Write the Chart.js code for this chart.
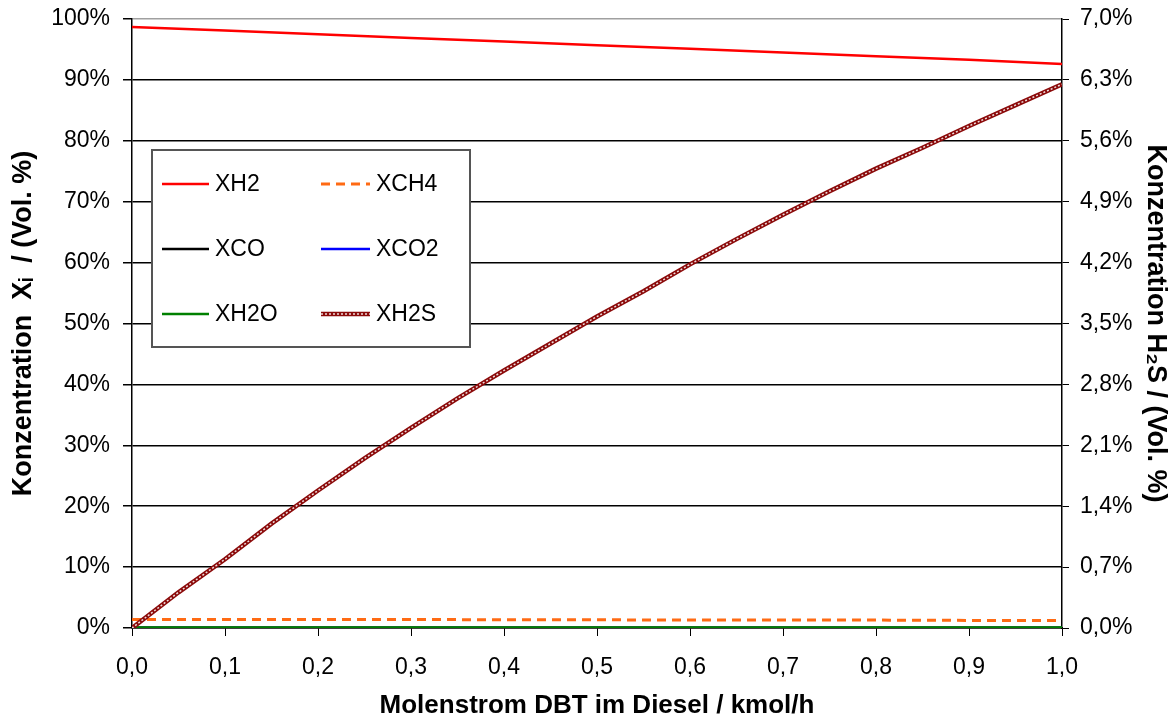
<!DOCTYPE html>
<html lang="de">
<head>
    <meta charset="UTF-8">
    <title>Konzentration vs. Molenstrom DBT</title>
    <script src="https://cdn.jsdelivr.net/npm/chart.js"></script>
    <style>
        body { margin: 0; background: #fff; }
        #wrap { width: 1174px; height: 717px; }
    </style>
</head>
<body>
    <div id="wrap">
        <canvas id="chart" width="1174" height="717"></canvas>
    </div>

    <script>
        // x positions (kmol/h)
        const xSteps = [0.0, 0.1, 0.2, 0.3, 0.4, 0.5, 0.6, 0.7, 0.8, 0.9, 1.0];
        const xStepsH2S = [0.0, 0.05, 0.1, 0.15, 0.2, 0.25, 0.3, 0.35, 0.4, 0.45, 0.5,
                           0.55, 0.6, 0.65, 0.7, 0.75, 0.8, 0.85, 0.9, 0.95, 1.0];

        // left axis series, Vol. %
        const xH2  = [98.7, 98.1, 97.5, 96.9, 96.3, 95.7, 95.1, 94.5, 93.9, 93.3, 92.6];
        const xCH4 = [1.4, 1.4, 1.4, 1.4, 1.35, 1.35, 1.3, 1.3, 1.3, 1.25, 1.25];
        const xCO  = [0.05, 0.05, 0.05, 0.05, 0.05, 0.05, 0.05, 0.05, 0.05, 0.05, 0.05];
        const xCO2 = [0.05, 0.05, 0.05, 0.05, 0.05, 0.05, 0.05, 0.05, 0.05, 0.05, 0.05];
        const xH2O = [0.1, 0.1, 0.1, 0.1, 0.1, 0.1, 0.1, 0.1, 0.1, 0.1, 0.1];

        // right axis series, Vol. % H2S
        const xH2S = [0.0, 0.41, 0.79, 1.20, 1.58, 1.95, 2.30, 2.64, 2.96, 3.27, 3.58,
                      3.87, 4.18, 4.47, 4.75, 5.02, 5.28, 5.52, 5.77, 6.01, 6.25];

        // tick labels
        const xTicks = [0.0, 0.1, 0.2, 0.3, 0.4, 0.5, 0.6, 0.7, 0.8, 0.9, 1.0];
        const leftTicks = [0, 10, 20, 30, 40, 50, 60, 70, 80, 90, 100];
        const rightTicks = [0.0, 0.7, 1.4, 2.1, 2.8, 3.5, 4.2, 4.9, 5.6, 6.3, 7.0];

        const comma = (v) => v.toFixed(1).replace('.', ',');
        const pts = (xs, ys) => xs.map((x, i) => ({ x: x, y: ys[i] }));

        Chart.defaults.font.family = '"Liberation Sans", Arial, sans-serif';
        Chart.defaults.color = '#000';

        // legend columns as in the original (left column, right column)
        const legendCols = [['XH2', 'XCO', 'XH2O'], ['XCH4', 'XCO2', 'XH2S']];

        const legendBox = {
            id: 'legendBox',
            afterDatasetsDraw(chart) {
                const ctx = chart.ctx;
                const area = chart.chartArea;
                const left = area.left + 20, top = area.top + 131;
                const w = 318, h = 197;
                ctx.save();
                ctx.fillStyle = '#fff';
                ctx.fillRect(left, top, w, h);
                ctx.strokeStyle = '#555';
                ctx.lineWidth = 2;
                ctx.strokeRect(left, top, w, h);

                ctx.font = '23px "Liberation Sans", Arial, sans-serif';
                ctx.textBaseline = 'middle';
                ctx.fillStyle = '#000';

                legendCols.forEach((col, c) => {
                    col.forEach((label, r) => {
                        const ds = chart.data.datasets.find(d => d.label === label);
                        const sx = left + 10 + c * 159;
                        const y = top + 34 + r * 65;
                        const sw = c === 0 ? 47 : 49;
                        ctx.beginPath();
                        ctx.strokeStyle = ds.borderColor;
                        ctx.lineWidth = ds.borderWidth;
                        ctx.setLineDash(ds.borderDash || []);
                        ctx.moveTo(sx, y);
                        ctx.lineTo(sx + sw, y);
                        ctx.stroke();
                        if (label === 'XH2S') {
                            const ov = chart.data.datasets.find(d => d.label === 'XH2S-overlay');
                            ctx.beginPath();
                            ctx.strokeStyle = ov.borderColor;
                            ctx.lineWidth = ov.borderWidth;
                            ctx.setLineDash(ov.borderDash);
                            ctx.moveTo(sx, y);
                            ctx.lineTo(sx + sw, y);
                            ctx.stroke();
                        }
                        ctx.setLineDash([]);
                        ctx.fillText(label, sx + sw + 6, y + 1);
                    });
                });
                ctx.restore();
            }
        };

        // fixed side widths; drop the auto padding for overhanging tick labels
        const fixWidth = (w) => (scale) => {
            scale.width = w;
            scale.paddingTop = 0;
            scale.paddingBottom = 0;
        };

        const lineDefaults = { pointRadius: 0, fill: false, tension: 0 };

        new Chart(document.getElementById('chart'), {
            type: 'line',
            data: {
                datasets: [
                    { ...lineDefaults, label: 'XH2', data: pts(xSteps, xH2), borderColor: '#ff0000', borderWidth: 2.5, yAxisID: 'y', order: 1 },
                    { ...lineDefaults, label: 'XCH4', data: pts(xSteps, xCH4), borderColor: '#ff6a13', borderWidth: 3, borderDash: [9, 6], yAxisID: 'y', order: 2 },
                    { ...lineDefaults, label: 'XCO', data: pts(xSteps, xCO), borderColor: '#000000', borderWidth: 2.5, yAxisID: 'y', order: 5 },
                    { ...lineDefaults, label: 'XCO2', data: pts(xSteps, xCO2), borderColor: '#0000ff', borderWidth: 2.5, yAxisID: 'y', order: 6 },
                    { ...lineDefaults, label: 'XH2O', data: pts(xSteps, xH2O), borderColor: '#008000', borderWidth: 2.5, yAxisID: 'y', order: 4 },
                    { ...lineDefaults, label: 'XH2S', data: pts(xStepsH2S, xH2S), borderColor: '#8b0a0a', borderWidth: 4.5, yAxisID: 'y1', order: 0 },
                    // white dotted core gives the chained-marker look of the original
                    { ...lineDefaults, label: 'XH2S-overlay', data: pts(xStepsH2S, xH2S), borderColor: 'rgba(255,255,255,0.85)', borderWidth: 1.5, borderDash: [2, 2], yAxisID: 'y1', order: -1 }
                ]
            },
            options: {
                responsive: false,
                animation: false,
                layout: { padding: { top: 19, left: 0, right: 0, bottom: 0 } },
                plugins: {
                    legend: { display: false },
                    tooltip: { enabled: false }
                },
                scales: {
                    x: {
                        type: 'linear',
                        min: 0,
                        max: 1,
                        afterBuildTicks: (scale) => { scale.ticks = xTicks.map(v => ({ value: v })); },
                        afterFit: (scale) => { scale.height = 89; },
                        ticks: {
                            font: { size: 23 },
                            padding: 18,
                            maxRotation: 0,
                            callback: (v) => comma(v)
                        },
                        grid: { drawOnChartArea: false, drawTicks: true, tickLength: 8, tickColor: '#000' },
                        border: { color: '#000', width: 1.5 },
                        title: {
                            display: true,
                            text: 'Molenstrom DBT im Diesel / kmol/h',
                            font: { size: 26, weight: 'bold' },
                            padding: { top: 0, bottom: -4 }
                        }
                    },
                    y: {
                        position: 'left',
                        min: 0,
                        max: 100,
                        afterBuildTicks: (scale) => { scale.ticks = leftTicks.map(v => ({ value: v })); },
                        afterFit: fixWidth(132),
                        ticks: {
                            font: { size: 23 },
                            padding: 13,
                            callback: (v) => v + '%'
                        },
                        grid: {
                            color: (c) => (c.tick && c.tick.value === 100 ? '#a0a0a0' : '#000'),
                            lineWidth: 1.5,
                            tickLength: 9,
                            tickColor: '#000'
                        },
                        border: { color: '#000', width: 1.5 },
                        title: {
                            display: true,
                            text: 'Konzentration  Xᵢ  / (Vol. %)',
                            font: { size: 27, weight: 'bold' },
                            padding: { top: 7, bottom: 0 }
                        }
                    },
                    y1: {
                        position: 'right',
                        min: 0,
                        max: 7,
                        afterBuildTicks: (scale) => { scale.ticks = rightTicks.map(v => ({ value: v })); },
                        afterFit: fixWidth(112),
                        ticks: {
                            font: { size: 23 },
                            padding: 11,
                            callback: (v) => comma(v) + '%'
                        },
                        grid: { drawOnChartArea: false, drawTicks: true, tickLength: 7, tickColor: '#000' },
                        border: { color: '#000', width: 1.5 },
                        title: {
                            display: true,
                            text: 'Konzentration H₂S / (Vol. %)',
                            font: { size: 27, weight: 'bold' },
                            padding: { top: 2, bottom: 0 }
                        }
                    }
                }
            },
            plugins: [legendBox]
        });
    </script>
</body>
</html>
